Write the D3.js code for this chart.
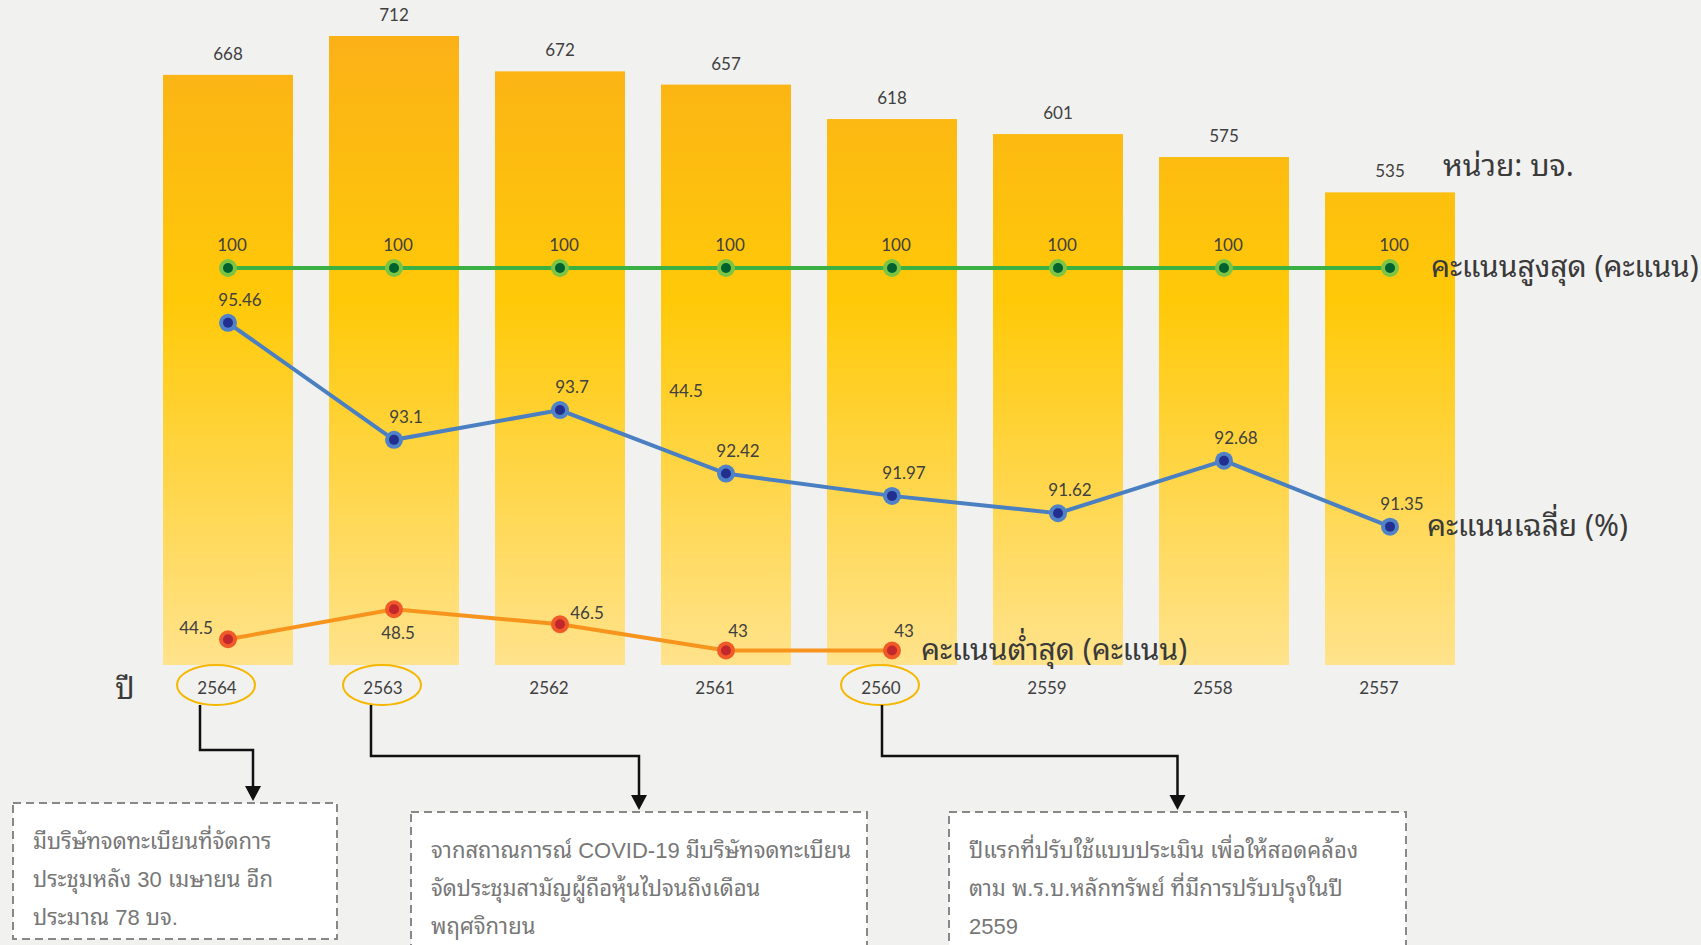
<!DOCTYPE html>
<html>
<head>
<meta charset="utf-8">
<script src="https://cdn.jsdelivr.net/npm/d3@7"></script>
<style>
  html, body { margin: 0; padding: 0; background: #f1f1f0; }
  svg { display: block; }
  .num { font-family: Lato, "Noto Sans", sans-serif; font-size: 17px; fill: #404040; }
  .legend { font-family: "Noto Sans Thai Looped", Tahoma, "Leelawadee UI", Loma, Garuda, Waree, "Noto Sans Thai", "Noto Sans", sans-serif; font-size: 30px; fill: #3a3a3a; }
  .note { font-family: "Liberation Sans", "Noto Sans Thai Looped", Tahoma, Loma, Garuda, Waree, "Noto Sans Thai", sans-serif; font-size: 22px; fill: #777; }
</style>
</head>
<body>
<svg id="chart" width="1701" height="945"></svg>
<script>
const years = ["2564", "2563", "2562", "2561", "2560", "2559", "2558", "2557"];
const companies = [668, 712, 672, 657, 618, 601, 575, 535];
const maxScore = [100, 100, 100, 100, 100, 100, 100, 100];
const avgScore = [95.46, 93.1, 93.7, 92.42, 91.97, 91.62, 92.68, 91.35];
const minScore = [44.5, 48.5, 46.5, 43, 43];
const minLabelSide = ["left", "below", "right", "above", "above"];

const unitLabel = "หน่วย: บจ.";
const yearLabel = "ปี";
const maxLabel = "คะแนนสูงสุด (คะแนน)";
const avgLabel = "คะแนนเฉลี่ย (%)";
const minLabel = "คะแนนต่ำสุด (คะแนน)";

const notes = [
    {year: "2564", lines: ["มีบริษัทจดทะเบียนที่จัดการ", "ประชุมหลัง 30 เมษายน อีก", "ประมาณ 78 บจ."]},
    {year: "2563", lines: ["จากสถาณการณ์ COVID-19 มีบริษัทจดทะเบียน", "จัดประชุมสามัญผู้ถือหุ้นไปจนถึงเดือน", "พฤศจิกายน"]},
    {year: "2560", lines: ["ปีแรกที่ปรับใช้แบบประเมิน เพื่อให้สอดคล้อง", "ตาม พ.ร.บ.หลักทรัพย์ ที่มีการปรับปรุงในปี", "2559"]}
];

// where the note boxes sit
const noteLayout = [
    {dx: -28, elbowY: 750, box: [13, 803, 324, 136], textY: 841},
    {dx: -23, elbowY: 756, box: [411, 812, 456, 160], textY: 850},
    {dx: -10, elbowY: 756, box: [949, 812, 457, 160], textY: 850}
];

const svg = d3.select("#chart");

const x = d3.scaleBand().domain(years).range([145, 1473]).paddingInner(0.217).paddingOuter(0.1085);
const yBar = d3.scaleLinear().domain([0, 712]).range([665, 36]);
const yMax = d3.scaleLinear().domain([0, 100]).range([665, 268]);
const yAvg = d3.scaleLinear().domain([91, 96]).range([544, 296]);
const yMin = d3.scaleLinear().domain([40, 50]).range([673, 598]);
const cx = d => x(d) + x.bandwidth() / 2;

const defs = svg.append("defs");
const grad = defs.append("linearGradient").attr("id", "barGrad")
    .attr("gradientUnits", "userSpaceOnUse")
    .attr("x1", 0).attr("x2", 0).attr("y1", yBar(712)).attr("y2", yBar(0));
grad.append("stop").attr("offset", "0").attr("stop-color", "#fbb117");
grad.append("stop").attr("offset", "0.42").attr("stop-color", "#ffc908");
grad.append("stop").attr("offset", "1").attr("stop-color", "#ffe38c");

// bars
svg.append("g").selectAll("rect").data(companies).enter().append("rect")
    .attr("x", (d, i) => x(years[i]))
    .attr("y", d => yBar(d))
    .attr("width", x.bandwidth())
    .attr("height", d => yBar(0) - yBar(d))
    .attr("fill", "url(#barGrad)");

svg.append("g").selectAll("text").data(companies).enter().append("text")
    .attr("class", "num")
    .attr("x", (d, i) => cx(years[i]))
    .attr("y", d => yBar(d) - 15)
    .attr("text-anchor", "middle")
    .text(d => d);

function drawSeries(values, y, lineColor, outer, inner) {
    const g = svg.append("g");
    const line = d3.line().x((d, i) => cx(years[i])).y(d => y(d));
    g.append("path").datum(values)
        .attr("d", line)
        .attr("fill", "none")
        .attr("stroke", lineColor)
        .attr("stroke-width", 4);
    const pts = g.selectAll("g").data(values).enter().append("g")
        .attr("transform", (d, i) => "translate(" + cx(years[i]) + "," + y(d) + ")");
    pts.append("circle").attr("r", 9).attr("fill", outer);
    pts.append("circle").attr("r", 5).attr("fill", inner);
    return g;
}

// max score
drawSeries(maxScore, yMax, "#3bb143", "#7cc444", "#00612e")
    .selectAll("text.v").data(maxScore).enter().append("text")
    .attr("class", "num")
    .attr("x", (d, i) => cx(years[i]) + 4)
    .attr("y", d => yMax(d) - 17)
    .attr("text-anchor", "middle")
    .text(d => d);

// average score
drawSeries(avgScore, yAvg, "#4a7fc1", "#4f82c6", "#232f8e")
    .selectAll("text.v").data(avgScore).enter().append("text")
    .attr("class", "num")
    .attr("x", (d, i) => cx(years[i]) + 12)
    .attr("y", d => yAvg(d) - 17)
    .attr("text-anchor", "middle")
    .text(d => d);

// stray label that sits in the original picture
svg.append("text").attr("class", "num")
    .attr("x", cx("2561") - 40).attr("y", yAvg(93.7) - 13)
    .attr("text-anchor", "middle")
    .text(minScore[0]);

// min score
drawSeries(minScore, yMin, "#f7941d", "#f05a28", "#c1272d")
    .selectAll("text.v").data(minScore).enter().append("text")
    .attr("class", "num")
    .attr("x", (d, i) => {
        const s = minLabelSide[i];
        if (s == "left") return cx(years[i]) - 32;
        if (s == "right") return cx(years[i]) + 27;
        if (s == "below") return cx(years[i]) + 4;
        return cx(years[i]) + 12;
    })
    .attr("y", (d, i) => {
        const s = minLabelSide[i];
        if (s == "below") return yMin(d) + 30;
        if (s == "above") return yMin(d) - 14;
        return yMin(d) - 5;
    })
    .attr("text-anchor", "middle")
    .text(d => d);

// series names
const last = a => a.length - 1;
svg.append("text").attr("class", "legend")
    .attr("x", 1443).attr("y", yBar(535) - 16)
    .text(unitLabel);
svg.append("text").attr("class", "legend")
    .attr("x", cx(years[last(maxScore)]) + 41).attr("y", yMax(100)).attr("dy", "0.3em")
    .text(maxLabel);
svg.append("text").attr("class", "legend")
    .attr("x", cx(years[last(avgScore)]) + 37).attr("y", yAvg(avgScore[last(avgScore)])).attr("dy", "0.3em")
    .text(avgLabel);
svg.append("text").attr("class", "legend")
    .attr("x", cx(years[last(minScore)]) + 29).attr("y", yMin(minScore[last(minScore)])).attr("dy", "0.3em")
    .text(minLabel);

// year axis
svg.append("text").attr("class", "legend")
    .attr("x", 125).attr("y", 688).attr("dy", "0.35em")
    .attr("text-anchor", "middle")
    .text(yearLabel);
svg.append("g").selectAll("text").data(years).enter().append("text")
    .attr("class", "num")
    .attr("x", d => cx(d) - 11)
    .attr("y", 688).attr("dy", "0.35em")
    .attr("text-anchor", "middle")
    .text(d => d);

// notes
notes.forEach(function(n, j) {
    const L = noteLayout[j];
    const ex = cx(n.year) - 12;
    svg.append("ellipse")
        .attr("cx", ex).attr("cy", 685).attr("rx", 39).attr("ry", 20)
        .attr("fill", "none").attr("stroke", "#f5b700").attr("stroke-width", 2);

    const sx = cx(n.year) + L.dx;
    const tx = L.box[0] + L.box[2] / 2 + (j == 0 ? 78 : 0);
    const tipY = L.box[1] - 2;
    svg.append("path")
        .attr("d", "M" + sx + ",705V" + L.elbowY + "H" + tx + "V" + (tipY - 14))
        .attr("fill", "none").attr("stroke", "#111").attr("stroke-width", 2.5);
    svg.append("path")
        .attr("d", "M" + (tx - 8) + "," + (tipY - 15) + "L" + (tx + 8) + "," + (tipY - 15) + "L" + tx + "," + tipY + "Z")
        .attr("fill", "#111");

    svg.append("rect")
        .attr("x", L.box[0]).attr("y", L.box[1])
        .attr("width", L.box[2]).attr("height", L.box[3])
        .attr("fill", "#fff")
        .attr("stroke", "#888").attr("stroke-width", 2)
        .attr("stroke-dasharray", "8,5");

    svg.append("g").selectAll("text").data(n.lines).enter().append("text")
        .attr("class", "note")
        .attr("x", L.box[0] + 20)
        .attr("y", (d, i) => L.textY + i * 38).attr("dy", "0.35em")
        .text(d => d);
});
</script>
</body>
</html>
